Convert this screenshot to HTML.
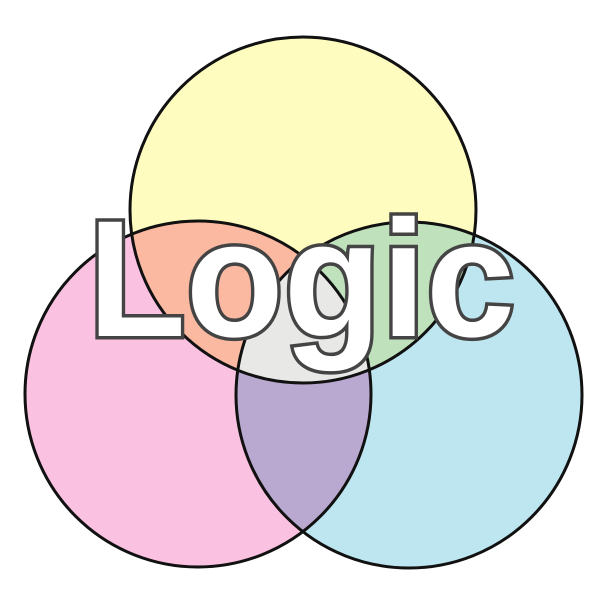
<!DOCTYPE html>
<html><head><meta charset="utf-8"><style>html,body{margin:0;padding:0;background:#fff}svg{display:block}</style></head>
<body>
<svg id="chart" width="600" height="600" viewBox="0 0 600 600" xmlns="http://www.w3.org/2000/svg">
<defs>
<clipPath id="cA"><circle cx="303" cy="210" r="173"/></clipPath>
<clipPath id="cB"><circle cx="198" cy="394" r="173"/></clipPath>
<clipPath id="cC"><circle cx="409" cy="395" r="173"/></clipPath>
</defs>
<circle cx="303" cy="210" r="173" fill="#fffcc0"/>
<circle cx="198" cy="394" r="173" fill="#fbc1e1"/>
<circle cx="409" cy="395" r="173" fill="#bee6f0"/>
<g clip-path="url(#cA)"><circle cx="198" cy="394" r="173" fill="#fbb9a2"/></g>
<g clip-path="url(#cA)"><circle cx="409" cy="395" r="173" fill="#bfe2bd"/></g>
<g clip-path="url(#cB)"><circle cx="409" cy="395" r="173" fill="#b9a9d0"/></g>
<g clip-path="url(#cA)"><g clip-path="url(#cB)"><circle cx="409" cy="395" r="173" fill="#e8e8e6"/></g></g>
<g fill="none" stroke="#111" stroke-width="3">
<circle cx="303" cy="210" r="173"/>
<circle cx="198" cy="394" r="173"/>
<circle cx="409" cy="395" r="173"/>
</g>
<text x="88" y="336" textLength="427" lengthAdjust="spacingAndGlyphs" font-family="Liberation Sans, sans-serif" font-weight="bold" font-size="166" fill="#fff" stroke="#444" stroke-width="7" paint-order="stroke">Logic</text>
</svg>
</body></html>
